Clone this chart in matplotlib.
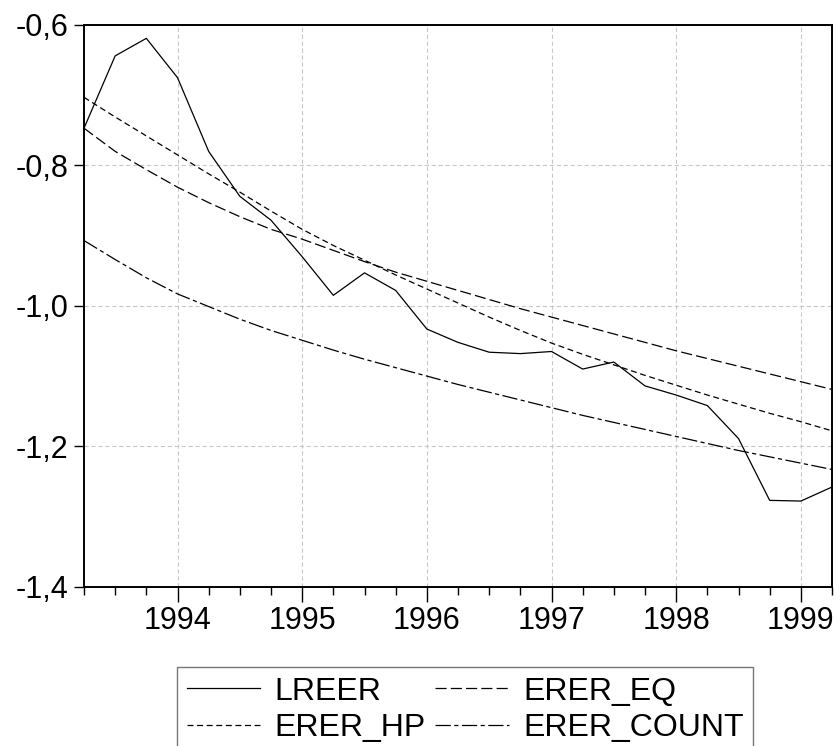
import numpy as np
import matplotlib
matplotlib.use("Agg")
import matplotlib.pyplot as plt
from matplotlib.ticker import FixedLocator

plt.rcParams['font.family'] = ['Liberation Sans', 'DejaVu Sans']
plt.rcParams['lines.scale_dashes'] = False

# quarterly data, 1993Q2 .. 1999Q2
first_quarter = 1993.25
lreer = [-0.747, -0.644, -0.619, -0.675, -0.780, -0.844, -0.878, -0.930,
         -0.985, -0.953, -0.978, -1.033, -1.052, -1.066, -1.068, -1.065,
         -1.090, -1.080, -1.114, -1.127, -1.142, -1.189, -1.277, -1.278,
         -1.258]
erer_eq = [-0.747, -0.780, -0.806, -0.831, -0.853, -0.873, -0.891, -0.905,
           -0.921, -0.937, -0.952, -0.965, -0.978, -0.991, -1.004, -1.016,
           -1.028, -1.040, -1.052, -1.064, -1.075, -1.086, -1.097, -1.108,
           -1.119]
erer_hp = [-0.703, -0.731, -0.758, -0.785, -0.812, -0.838, -0.865, -0.891,
           -0.914, -0.935, -0.956, -0.976, -0.996, -1.016, -1.035, -1.053,
           -1.069, -1.084, -1.099, -1.113, -1.127, -1.140, -1.153, -1.165,
           -1.178]
erer_count = [-0.907, -0.934, -0.960, -0.983, -1.001, -1.019, -1.035, -1.049,
              -1.063, -1.076, -1.088, -1.100, -1.112, -1.123, -1.134, -1.145,
              -1.156, -1.166, -1.176, -1.186, -1.196, -1.206, -1.215, -1.224,
              -1.233]

years = [1994, 1995, 1996, 1997, 1998, 1999]
y_ticks = [-1.4, -1.2, -1.0, -0.8, -0.6]
y_labels = ["-1,4", "-1,2", "-1,0", "-0,8", "-0,6"]

x = first_quarter + np.arange(len(lreer)) / 4.0

fig = plt.figure(figsize=(8.4, 7.46), dpi=100)
ax = fig.add_axes([0.1, 0.2135, 0.8905, 0.753])

lw = 0.9
ax.plot(x, lreer, color="black", lw=lw, label="LREER")
ax.plot(x, erer_hp, color="black", lw=lw, dashes=(4.3, 2.6), label="ERER_HP")
ax.plot(x, erer_eq, color="black", lw=lw, dashes=(8, 3), label="ERER_EQ")
ax.plot(x, erer_count, color="black", lw=lw, dashes=(11, 2.5, 3, 2.5),
        label="ERER_COUNT")

ax.set_xlim(x[0], x[-1])
ax.set_ylim(-1.4, -0.6)

ax.set_yticks(y_ticks)
ax.set_yticklabels(y_labels)
ax.set_xticks(years)
ax.set_xticklabels([str(y) for y in years])
ax.xaxis.set_minor_locator(FixedLocator(list(x)))

ax.tick_params(axis="both", which="major", labelsize=22, direction="out",
               width=1, color="black")
ax.tick_params(axis="y", which="major", length=7, pad=4)
ax.tick_params(axis="x", which="major", length=11, pad=3)
ax.tick_params(axis="x", which="minor", length=6, width=1)

ax.grid(True, which="major", color="#c8c8c8", lw=0.8, dashes=(3, 2))
for s in ax.spines.values():
    s.set_linewidth(1.4)
    s.set_color("black")

leg = fig.legend(loc="upper left", bbox_to_anchor=(177 / 840, 1 - 667 / 746),
                 ncol=2, fontsize=23, frameon=True, fancybox=False,
                 edgecolor="#555555", handlelength=2.3, handletextpad=0.45,
                 columnspacing=0.3, labelspacing=0.2, borderpad=0.3,
                 borderaxespad=0)
leg.get_frame().set_linewidth(1.0)

fig.savefig("out.png", dpi=100)
